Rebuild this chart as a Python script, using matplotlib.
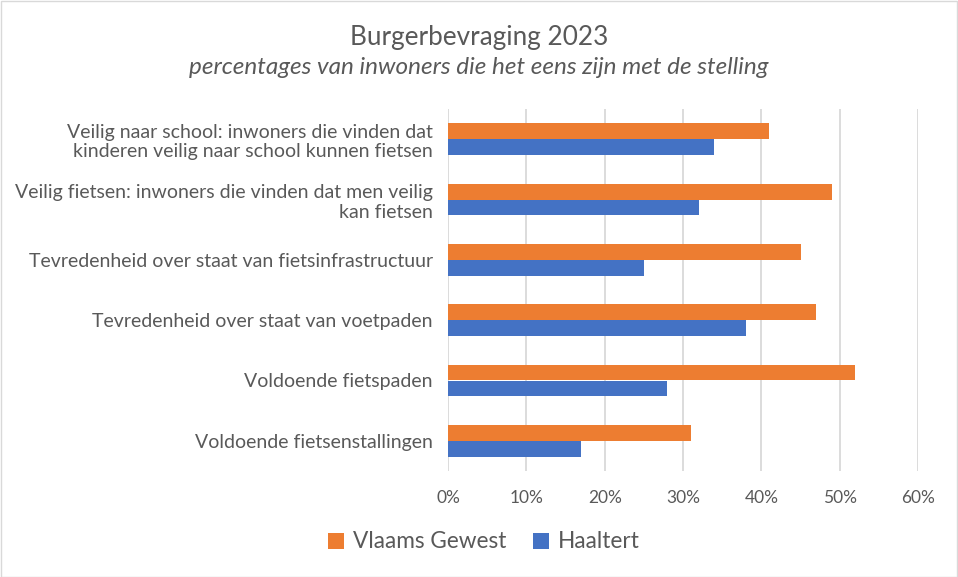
import matplotlib.pyplot as plt
import numpy as np
from matplotlib.ticker import PercentFormatter
from matplotlib.patches import Rectangle

# Data (percent)
categories = [
    "Veilig naar school: inwoners die vinden dat\nkinderen veilig naar school kunnen fietsen",
    "Veilig fietsen: inwoners die vinden dat men veilig\nkan fietsen",
    "Tevredenheid over staat van fietsinfrastructuur",
    "Tevredenheid over staat van voetpaden",
    "Voldoende fietspaden",
    "Voldoende fietsenstallingen",
]
vlaams_gewest = [41, 49, 45, 47, 52, 31]
haaltert = [34, 32, 25, 38, 28, 17]
x_ticks = [0, 10, 20, 30, 40, 50, 60]

orange = "#ED7D31"
blue = "#4472C4"
text_col = "#595959"
font = "Lato"

plt.rcParams['font.family'] = [font, 'DejaVu Sans']

W, H = 958, 577
fig = plt.figure(figsize=(W / 100, H / 100), dpi=100)

# Axes placed in pixel terms of the reference
ax = fig.add_axes([448 / W, 1 - 471 / H, 470 / W, 362 / H])

y = np.arange(len(categories))
h = 0.265
ax.barh(y - h / 2, vlaams_gewest, height=h, color=orange, label="Vlaams Gewest", zorder=3)
ax.barh(y + h / 2, haaltert, height=h, color=blue, label="Haaltert", zorder=3)

ax.set_xlim(0, 60)
ax.set_ylim(len(categories) - 0.5, -0.5)
ax.set_xticks(x_ticks)
ax.xaxis.set_major_formatter(PercentFormatter(decimals=0))
ax.set_yticks(y)
ax.set_yticklabels(categories, fontsize=14, color=text_col, ha="right", linespacing=1.2)
ax.tick_params(axis="x", colors=text_col, labelsize=12.5, length=0, pad=14)
ax.tick_params(axis="y", length=0, pad=11)
ax.grid(axis="x", color="#D9D9D9", linewidth=1.3, zorder=0)
for s in ax.spines.values():
    s.set_visible(False)

# Titles
fig.text(479 / W, 1 - 38 / H, "Burgerbevraging 2023", ha="center", va="center",
         fontsize=18.8, color=text_col)
fig.text(479 / W, 1 - 68 / H, "percentages van inwoners die het eens zijn met de stelling",
         ha="center", va="center", fontsize=17.5, style="italic", color=text_col)

# Legend
handles, labels = ax.get_legend_handles_labels()
fig.legend(handles, labels, loc="center", bbox_to_anchor=(484 / W, 1 - 542 / H), ncol=2,
           frameon=False, fontsize=16.3, labelcolor=text_col, handlelength=0.7,
           handleheight=0.7, handletextpad=0.4, columnspacing=1.2)

# Chart border
fig.patches.append(Rectangle((0.5 / W, 0.5 / H), 1 - 1.5 / W, 1 - 1.5 / H,
                             transform=fig.transFigure, fill=False,
                             edgecolor="#D9D9D9", linewidth=1))

fig.savefig("out.png", dpi=100, facecolor="white")
